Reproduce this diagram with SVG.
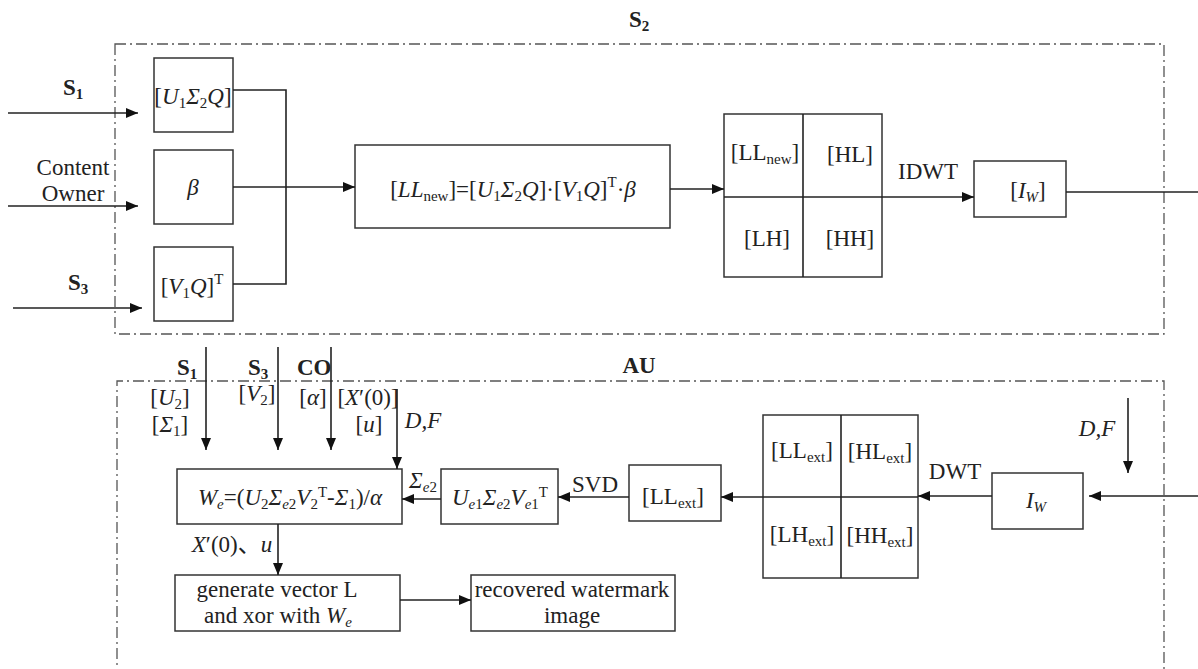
<svg xmlns="http://www.w3.org/2000/svg" width="1198" height="669" viewBox="0 0 1198 669">
  <style>
    text { font-family: "Liberation Serif", "Noto Sans CJK SC", serif; font-size: 23px; fill: #222; }
    .c { text-anchor: middle; }
    .b { font-weight: bold; }
    .i { font-style: italic; }
    .box { fill: #fff; stroke: #333; stroke-width: 1.5; }
    .frame { fill: none; stroke: #555; stroke-width: 1.3; stroke-dasharray: 11 4 2 4; }
    .ln { fill: none; stroke: #222; stroke-width: 1.6; }
    .arr { fill: none; stroke: #222; stroke-width: 1.6; marker-end: url(#ah); }
    .sub { font-size: 15px; }
  </style>
  <defs>
    <marker id="ah" viewBox="0 0 12 10" refX="12" refY="5" markerWidth="12" markerHeight="10" markerUnits="userSpaceOnUse" orient="auto">
      <path d="M0,0 L12,5 L0,10 Z" fill="#111"/>
    </marker>
  </defs>

  <!-- dash-dot frames -->
  <g id="frame-s2">
    <rect class="frame" x="115" y="44" width="1049" height="290"/>
    <text class="b" x="629" y="27">S<tspan class="sub" dy="4">2</tspan></text>
  </g>
  <g id="frame-au">
    <path class="frame" d="M117,680 L117,381 L1164,381 L1164,680"/>
    <text class="b c" x="639" y="373">AU</text>
  </g>

  <!-- embedding side -->
  <g id="node-u1s2q">
    <rect class="box" x="154" y="58" width="79" height="74"/>
    <text class="c" x="193" y="104">[<tspan class="i">U</tspan><tspan class="sub" dy="4">1</tspan><tspan class="i" dy="-4">Σ</tspan><tspan class="sub" dy="4">2</tspan><tspan class="i" dy="-4">Q</tspan>]</text>
  </g>
  <g id="node-beta">
    <rect class="box" x="154" y="150" width="79" height="74"/>
    <text class="c i" x="193" y="195">β</text>
  </g>
  <g id="node-v1q">
    <rect class="box" x="154" y="247" width="79" height="74"/>
    <text class="c" x="192" y="294">[<tspan class="i">V</tspan><tspan class="sub" dy="4">1</tspan><tspan class="i" dy="-4">Q</tspan>]<tspan class="sub" dy="-10">T</tspan></text>
  </g>
  <g id="node-llnew-formula">
    <rect class="box" x="355" y="145" width="315" height="83"/>
    <text class="c" x="513" y="197">[<tspan class="i">LL</tspan><tspan class="sub" dy="4">new</tspan><tspan dy="-4">]=[</tspan><tspan class="i">U</tspan><tspan class="sub" dy="4">1</tspan><tspan class="i" dy="-4">Σ</tspan><tspan class="sub" dy="4">2</tspan><tspan class="i" dy="-4">Q</tspan>]·[<tspan class="i">V</tspan><tspan class="sub" dy="4">1</tspan><tspan class="i" dy="-4">Q</tspan>]<tspan class="sub" dy="-10">T</tspan><tspan dy="10">·</tspan><tspan class="i">β</tspan></text>
  </g>
  <g id="node-subbands-new">
    <rect class="box" x="724" y="114" width="158" height="163"/>
    <line class="ln" x1="803" y1="114" x2="803" y2="277"/>
    <line class="ln" x1="724" y1="197" x2="882" y2="197"/>
    <text class="c" x="765" y="160">[LL<tspan class="sub" dy="4">new</tspan><tspan dy="-4">]</tspan></text>
    <text class="c" x="850" y="162">[HL]</text>
    <text class="c" x="767" y="246">[LH]</text>
    <text class="c" x="850" y="246">[HH]</text>
  </g>
  <g id="node-iw-out">
    <rect class="box" x="974" y="161" width="92" height="56"/>
    <text class="c" x="1028" y="198">[<tspan class="i">I</tspan><tspan class="sub i" dy="4">W</tspan><tspan dy="-4">]</tspan></text>
  </g>

  <!-- extraction side -->
  <g id="node-we-formula">
    <rect class="box" x="177" y="469" width="225" height="55"/>
    <text class="c" x="290" y="505"><tspan class="i">W</tspan><tspan class="sub i" dy="4">e</tspan><tspan dy="-4">=(</tspan><tspan class="i">U</tspan><tspan class="sub" dy="4">2</tspan><tspan class="i" dy="-4">Σ</tspan><tspan class="sub" dy="4"><tspan class="i">e</tspan>2</tspan><tspan class="i" dy="-4">V</tspan><tspan class="sub" dy="4">2</tspan><tspan class="sub" dy="-12">T</tspan><tspan dy="8">-</tspan><tspan class="i">Σ</tspan><tspan class="sub" dy="4">1</tspan><tspan dy="-4">)/</tspan><tspan class="i">α</tspan></text>
  </g>
  <g id="node-svd">
    <rect class="box" x="441" y="469" width="117" height="55"/>
    <text class="c" x="500" y="505"><tspan class="i">U</tspan><tspan class="sub" dy="4"><tspan class="i">e</tspan>1</tspan><tspan class="i" dy="-4">Σ</tspan><tspan class="sub" dy="4"><tspan class="i">e</tspan>2</tspan><tspan class="i" dy="-4">V</tspan><tspan class="sub" dy="4"><tspan class="i">e</tspan>1</tspan><tspan class="sub" dy="-12">T</tspan></text>
  </g>
  <g id="node-llext">
    <rect class="box" x="629" y="465" width="92" height="56"/>
    <text class="c" x="673" y="504">[LL<tspan class="sub" dy="4">ext</tspan><tspan dy="-4">]</tspan></text>
  </g>
  <g id="node-subbands-ext">
    <rect class="box" x="763" y="415" width="155" height="163"/>
    <line class="ln" x1="841" y1="415" x2="841" y2="578"/>
    <text class="c" x="802" y="458">[LL<tspan class="sub" dy="4">ext</tspan><tspan dy="-4">]</tspan></text>
    <text class="c" x="880" y="459">[HL<tspan class="sub" dy="4">ext</tspan><tspan dy="-4">]</tspan></text>
    <text class="c" x="802" y="542">[LH<tspan class="sub" dy="4">ext</tspan><tspan dy="-4">]</tspan></text>
    <text class="c" x="880" y="543">[HH<tspan class="sub" dy="4">ext</tspan><tspan dy="-4">]</tspan></text>
  </g>
  <g id="node-iw-in">
    <rect class="box" x="992" y="473" width="91" height="56"/>
    <text class="c" x="1036" y="508"><tspan class="i">I</tspan><tspan class="sub i" dy="4">W</tspan></text>
  </g>
  <g id="node-generate">
    <rect class="box" x="175" y="575" width="225" height="56"/>
    <text class="c" x="277" y="597">generate vector L</text>
    <text class="c" x="278" y="623">and xor with <tspan class="i">W</tspan><tspan class="sub i" dy="4">e</tspan></text>
  </g>
  <g id="node-recovered">
    <rect class="box" x="471" y="575" width="204" height="56"/>
    <text class="c" x="572" y="597">recovered watermark</text>
    <text class="c" x="572" y="623">image</text>
  </g>

  <!-- connectors -->
  <g id="connectors">
    <!-- inputs to S2 -->
    <line class="arr" x1="8" y1="113" x2="138" y2="113"/>
    <line class="arr" x1="8" y1="206" x2="138" y2="206"/>
    <line class="arr" x1="13" y1="308" x2="142" y2="308"/>
    <!-- merge into formula -->
    <path class="ln" d="M233,90 H286 V284 H233"/>
    <line class="arr" x1="233" y1="187" x2="355" y2="187"/>
    <line class="arr" x1="670" y1="189" x2="724" y2="189"/>
    <line class="arr" x1="882" y1="197" x2="974" y2="197"/>
    <line class="ln" x1="1066" y1="192" x2="1198" y2="192"/>
    <!-- keys into AU -->
    <line class="arr" x1="206" y1="347" x2="206" y2="450"/>
    <line class="arr" x1="278" y1="347" x2="278" y2="450"/>
    <line class="arr" x1="331" y1="347" x2="331" y2="450"/>
    <line class="arr" x1="397" y1="389" x2="397" y2="469"/>
    <!-- extraction chain -->
    <line class="arr" x1="1198" y1="496" x2="1089" y2="496"/>
    <line class="arr" x1="1128" y1="398" x2="1128" y2="473"/>
    <line class="arr" x1="992" y1="496" x2="918" y2="496"/>
    <line class="ln" x1="918" y1="497" x2="763" y2="497"/>
    <line class="arr" x1="763" y1="497" x2="721" y2="497"/>
    <line class="arr" x1="629" y1="497" x2="558" y2="497"/>
    <line class="arr" x1="441" y1="499" x2="402" y2="499"/>
    <line class="arr" x1="278" y1="524" x2="278" y2="575"/>
    <line class="arr" x1="400" y1="600" x2="471" y2="600"/>

    <!-- connector labels -->
    <text class="b" x="63" y="95">S<tspan class="sub" dy="4">1</tspan></text>
    <text class="c" x="73" y="175">Content</text>
    <text class="c" x="73" y="201">Owner</text>
    <text class="b" x="68" y="290">S<tspan class="sub" dy="4">3</tspan></text>
    <text class="c" x="928" y="179">IDWT</text>

    <text class="b" x="177" y="375">S<tspan class="sub" dy="4">1</tspan></text>
    <text class="b" x="248" y="375">S<tspan class="sub" dy="4">3</tspan></text>
    <text class="b" x="297" y="375">CO</text>
    <text class="c" x="170" y="405">[<tspan class="i">U</tspan><tspan class="sub" dy="4">2</tspan><tspan dy="-4">]</tspan></text>
    <text class="c" x="170" y="432">[<tspan class="i">Σ</tspan><tspan class="sub" dy="4">1</tspan><tspan dy="-4">]</tspan></text>
    <text class="c" x="257" y="401">[<tspan class="i">V</tspan><tspan class="sub" dy="4">2</tspan><tspan dy="-4">]</tspan></text>
    <text class="c" x="313" y="405">[<tspan class="i">α</tspan>]</text>
    <text class="c" x="368" y="405">[<tspan class="i">X</tspan>′(0)]</text>
    <text class="c" x="369" y="432">[<tspan class="i">u</tspan>]</text>
    <text class="c i" x="423" y="428">D,F</text>
    <text class="c" x="423" y="488"><tspan class="i">Σ</tspan><tspan class="sub" dy="4"><tspan class="i">e</tspan>2</tspan></text>
    <text class="c" x="595" y="492">SVD</text>
    <text class="c" x="955" y="479">DWT</text>
    <text class="c i" x="1097" y="436">D,F</text>
    <text class="c" x="232" y="552"><tspan class="i">X</tspan>′(0)、<tspan class="i">u</tspan></text>
  </g>
</svg>
